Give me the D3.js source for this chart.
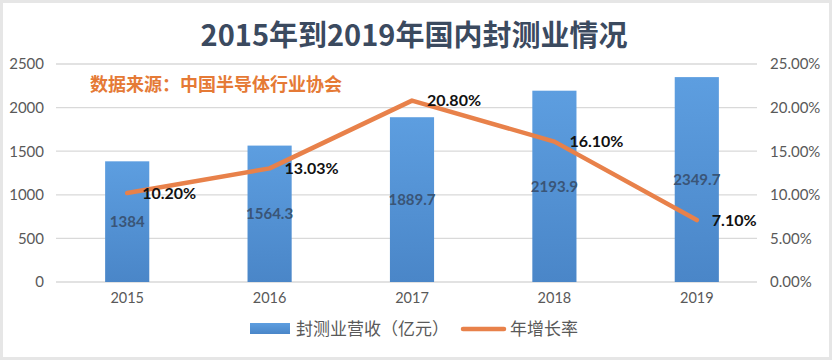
<!DOCTYPE html>
<html><head><meta charset="utf-8">
<script src="https://cdn.jsdelivr.net/npm/d3@7"></script>
<style>body{margin:0;background:#fff}svg{display:block}</style>
</head><body><svg id="c" width="832" height="360"></svg>
<script>
const years = ["2015","2016","2017","2018","2019"];
const revenue = [1384, 1564.3, 1889.7, 2193.9, 2349.7];
const growth = [10.20, 13.03, 20.80, 16.10, 7.10];
const leftTicks = [0,500,1000,1500,2000,2500];
const rightTicks = [0,5,10,15,20,25];
const title = "2015年到2019年国内封测业情况";
const subtitle = "数据来源：中国半导体行业协会";
const legendNames = ["封测业营收（亿元）","年增长率"];

const svg = d3.select("#c");
const W=832,H=360;
svg.append("rect").attr("x",1.5).attr("y",1.5).attr("width",W-3).attr("height",H-3)
  .attr("fill","#fff").attr("stroke","#e6e6e6").attr("stroke-width",3);

const defs = svg.append("defs");
const g1 = defs.append("linearGradient").attr("id","bar").attr("x1",0).attr("y1",0).attr("x2",0).attr("y2",1);
g1.append("stop").attr("offset","0%").attr("stop-color","#5d9ee0");
g1.append("stop").attr("offset","100%").attr("stop-color","#4a86c8");

const x = d3.scaleBand().domain(years).range([56,768]).paddingInner(0.69).paddingOuter(0.345);
const yL = d3.scaleLinear().domain([0,2500]).range([282,64]);
const yR = d3.scaleLinear().domain([0,25]).range([282,64]);
const numFont = "Lato, 'Noto Sans', sans-serif";
const cjk = "'Noto Sans CJK SC', sans-serif";

// grid
svg.append("g").selectAll("line").data(leftTicks).join("line")
  .attr("x1",56).attr("x2",757).attr("y1",d=>yL(d)).attr("y2",d=>yL(d))
  .attr("stroke","#d9d9d9").attr("stroke-width",1.3);

// left axis
const axL = svg.append("g").attr("transform","translate(56,0)")
  .call(d3.axisLeft(yL).tickValues(leftTicks).tickSize(0).tickPadding(12).tickFormat(d3.format("d")));
axL.select(".domain").remove();
axL.selectAll("text").attr("font-family",numFont).attr("font-size",15).attr("fill","#595959");

// right axis
const axR = svg.append("g").attr("transform","translate(757,0)")
  .call(d3.axisRight(yR).tickValues(rightTicks).tickSize(0).tickPadding(13).tickFormat(d=>d.toFixed(2)+"%"));
axR.select(".domain").remove();
axR.selectAll("text").attr("font-family",numFont).attr("font-size",15).attr("fill","#595959");

// x axis labels
const axX = svg.append("g").attr("transform","translate(0,282)")
  .call(d3.axisBottom(x).tickSize(0).tickPadding(11));
axX.select(".domain").remove();
axX.selectAll("text").attr("font-family",numFont).attr("font-size",14.5).attr("fill","#595959");

// bars
svg.append("g").selectAll("rect").data(revenue).join("rect")
  .attr("x",(d,i)=>x(years[i])).attr("width",x.bandwidth())
  .attr("y",d=>yL(d)).attr("height",d=>yL(0)-yL(d)).attr("fill","url(#bar)");
svg.append("g").selectAll("text").data(revenue).join("text")
  .attr("x",(d,i)=>x(years[i])+x.bandwidth()/2).attr("y",d=>(yL(d)+yL(0))/2)
  .attr("dy","0.35em").attr("text-anchor","middle")
  .attr("font-family",numFont).attr("font-weight","bold").attr("font-size",15).attr("fill","#3a5577")
  .text(d=>d);

// line
const cx = (i)=>x(years[i])+x.bandwidth()/2;
svg.append("path").datum(growth)
  .attr("d",d3.line().x((d,i)=>cx(i)).y(d=>yR(d)))
  .attr("fill","none").attr("stroke","#e8814a").attr("stroke-width",4.5)
  .attr("stroke-linejoin","round").attr("stroke-linecap","round");
svg.append("g").selectAll("text").data(growth).join("text")
  .attr("x",(d,i)=>cx(i)+15).attr("y",d=>yR(d)).attr("dy","0.35em")
  .attr("font-family",numFont).attr("font-weight","bold").attr("font-size",16).attr("fill","#111")
  .text(d=>d.toFixed(2)+"%");

// title
svg.append("text").attr("x",414).attr("y",46).attr("text-anchor","middle")
  .attr("font-family",cjk).attr("font-weight","bold").attr("font-size",29).attr("fill","#3b4a5f")
  .text(title);
svg.append("text").attr("x",90).attr("y",91)
  .attr("font-family",cjk).attr("font-weight","bold").attr("font-size",18).attr("fill","#e57a36")
  .text(subtitle);

// legend
const lg = svg.append("g");
lg.append("rect").attr("x",250).attr("y",323).attr("width",40).attr("height",11).attr("fill","url(#bar)");
lg.append("text").attr("x",296).attr("y",329).attr("dy","0.35em")
  .attr("font-family",cjk).attr("font-size",17).attr("fill","#595959").text(legendNames[0]);
lg.append("line").attr("x1",463).attr("x2",504).attr("y1",329).attr("y2",329)
  .attr("stroke","#e8814a").attr("stroke-width",4.5).attr("stroke-linecap","round");
lg.append("text").attr("x",510).attr("y",329).attr("dy","0.35em")
  .attr("font-family",cjk).attr("font-size",17).attr("fill","#595959").text(legendNames[1]);
</script></body></html>
